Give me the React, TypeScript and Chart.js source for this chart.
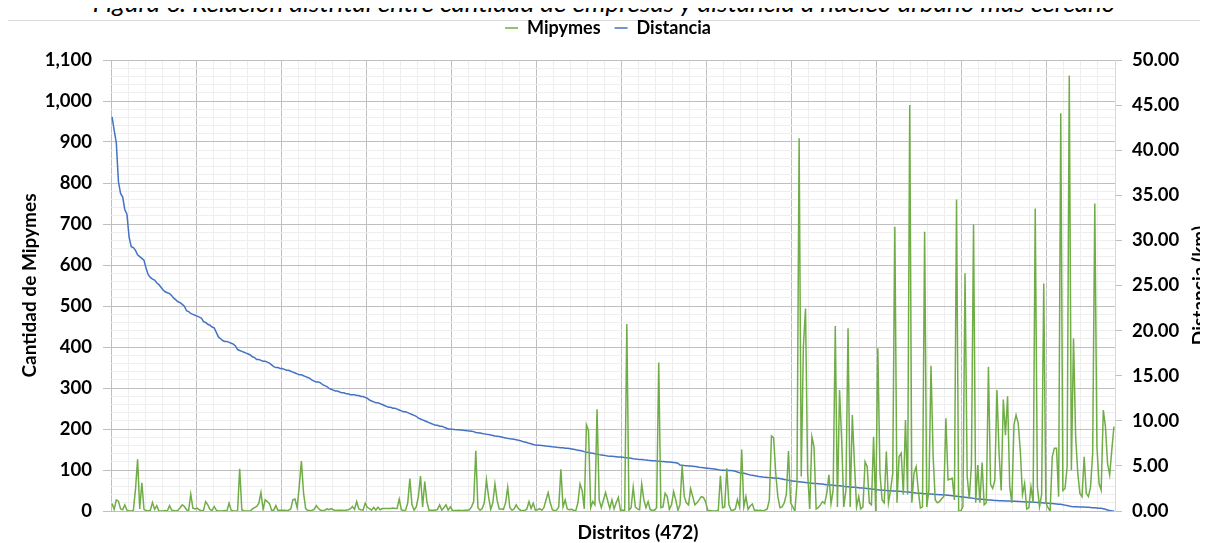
import React, { useEffect, useRef } from "react";
import { Chart, registerables } from "chart.js";

Chart.register(...registerables);

const titleText =
  "Figura 6. Relación distrital entre cantidad de empresas y distancia a núcleo urbano más cercano";

const seriesNames = ["Mipymes", "Distancia"];
const axisTitles = { left: "Cantidad de Mipymes", right: "Distancia (km)", bottom: "Distritos (472)" };

const leftMax = 1100;
const leftMajorStep = 100;
const leftMinorStep = 20;
const rightMax = 50;
const rightStep = 5;
const districtMajorEvery = 40;
const districtMinorEvery = 8;

// Cantidad de Mipymes por distrito (472 distritos, ordenados por distancia descendente)
const mipymes = [
  18, 4, 27, 24, 5, 3, 15, 2, 0, 0,
  1, 52, 126, 5, 69, 4, 1, 0, 2, 21,
  4, 13, 0, 0, 0, 1, 0, 13, 2, 1,
  0, 2, 8, 15, 11, 3, 1, 41, 7, 5,
  7, 3, 0, 2, 23, 15, 4, 1, 11, 2,
  0, 0, 0, 1, 0, 19, 2, 0, 0, 0,
  103, 3, 0, 0, 0, 0, 5, 8, 11, 19,
  45, 4, 27, 23, 18, 2, 2, 13, 1, 2,
  2, 2, 1, 2, 5, 27, 29, 8, 60, 122,
  45, 6, 1, 1, 2, 4, 13, 6, 2, 1,
  2, 5, 3, 6, 3, 1, 2, 2, 2, 1,
  2, 3, 5, 11, 4, 23, 5, 3, 2, 19,
  9, 6, 2, 9, 2, 9, 3, 6, 6, 6,
  6, 6, 7, 6, 6, 29, 3, 1, 2, 20,
  79, 15, 2, 10, 35, 85, 10, 72, 23, 2,
  2, 2, 2, 4, 15, 2, 8, 15, 2, 10,
  2, 1, 1, 2, 1, 1, 2, 2, 3, 10,
  23, 147, 8, 2, 6, 20, 76, 35, 4, 20,
  66, 27, 5, 5, 4, 20, 58, 8, 2, 5,
  15, 6, 2, 1, 1, 5, 23, 6, 19, 2,
  3, 6, 2, 8, 27, 45, 20, 3, 1, 2,
  10, 102, 10, 27, 5, 3, 4, 2, 1, 20,
  66, 50, 5, 210, 196, 8, 23, 15, 248, 27,
  8, 27, 45, 25, 6, 27, 5, 20, 33, 2,
  2, 2, 456, 2, 8, 58, 10, 5, 3, 66,
  27, 8, 23, 3, 2, 2, 8, 362, 8, 10,
  43, 35, 4, 15, 47, 27, 2, 15, 111, 35,
  20, 15, 54, 35, 15, 20, 27, 35, 33, 23,
  2, 1, 0, 0, 0, 2, 86, 8, 10, 104,
  15, 2, 2, 5, 28, 10, 150, 10, 35, 4,
  12, 17, 2, 2, 1, 2, 0, 2, 5, 27,
  183, 179, 92, 35, 8, 10, 20, 41, 146, 20,
  10, 0, 67, 909, 84, 401, 494, 92, 5, 181,
  157, 5, 8, 15, 23, 18, 43, 88, 18, 51,
  451, 10, 295, 173, 10, 51, 446, 10, 234, 116,
  10, 35, 5, 10, 120, 108, 20, 15, 181, 0,
  397, 92, 27, 20, 145, 20, 51, 92, 693, 20,
  133, 141, 40, 222, 40, 990, 20, 92, 108, 51,
  7, 10, 681, 10, 51, 354, 133, 27, 20, 23,
  30, 35, 226, 76, 78, 80, 27, 760, 0, 0,
  10, 580, 84, 30, 112, 699, 20, 112, 20, 118,
  15, 20, 352, 65, 55, 75, 295, 141, 50, 272,
  185, 280, 60, 20, 210, 234, 214, 145, 40, 67,
  5, 8, 59, 20, 738, 59, 10, 40, 555, 20,
  8, 0, 132, 153, 153, 35, 970, 50, 55, 108,
  1062, 100, 421, 181, 92, 43, 35, 132, 43, 35,
  59, 141, 750, 157, 67, 51, 246, 206, 116, 88,
  149, 206,
];

// Distancia al núcleo urbano más cercano (km)
const distancia = [
  43.7, 42.2, 40.8, 36.5, 35.2, 34.8, 33.4, 32.9, 30.4, 29.3,
  29.2, 28.9, 28.4, 28.2, 28.0, 27.8, 26.9, 26.2, 25.9, 25.7,
  25.6, 25.3, 25.1, 24.8, 24.5, 24.3, 24.2, 24.1, 23.9, 23.6,
  23.4, 23.2, 23.1, 22.9, 22.7, 22.2, 22.1, 21.9, 21.8, 21.7,
  21.6, 21.5, 21.4, 21.0, 20.9, 20.7, 20.6, 20.4, 20.3, 19.8,
  19.3, 19.1, 18.9, 18.8, 18.8, 18.7, 18.6, 18.5, 18.3, 17.9,
  17.8, 17.7, 17.6, 17.5, 17.4, 17.3, 17.1, 17.0, 16.8, 16.8,
  16.7, 16.6, 16.6, 16.5, 16.4, 16.2, 16.0, 15.9, 15.9, 15.8,
  15.8, 15.7, 15.6, 15.6, 15.5, 15.4, 15.3, 15.2, 15.1, 15.1,
  15.0, 14.9, 14.8, 14.7, 14.5, 14.4, 14.3, 14.3, 14.2, 14.0,
  13.9, 13.8, 13.6, 13.5, 13.4, 13.3, 13.3, 13.2, 13.1, 13.1,
  13.0, 13.0, 12.9, 12.9, 12.9, 12.8, 12.8, 12.7, 12.7, 12.6,
  12.5, 12.3, 12.2, 12.1, 12.0, 12.0, 11.9, 11.8, 11.7, 11.6,
  11.5, 11.5, 11.4, 11.4, 11.3, 11.2, 11.1, 11.0, 11.0, 10.9,
  10.8, 10.7, 10.6, 10.5, 10.3, 10.2, 10.1, 10.0, 9.9, 9.8,
  9.7, 9.6, 9.5, 9.5, 9.4, 9.4, 9.3, 9.2, 9.1, 9.1,
  9.05, 9.03, 9.02, 9.0, 8.98, 8.95, 8.93, 8.9, 8.88, 8.85,
  8.8, 8.7, 8.68, 8.65, 8.6, 8.55, 8.5, 8.47, 8.43, 8.38,
  8.32, 8.3, 8.25, 8.2, 8.15, 8.1, 8.05, 8.0, 7.98, 7.95,
  7.9, 7.85, 7.8, 7.7, 7.65, 7.6, 7.5, 7.45, 7.38, 7.32,
  7.3, 7.28, 7.26, 7.23, 7.2, 7.18, 7.15, 7.12, 7.1, 7.06,
  7.04, 7.02, 7.0, 6.97, 6.95, 6.92, 6.88, 6.84, 6.78, 6.74,
  6.7, 6.65, 6.58, 6.52, 6.48, 6.44, 6.4, 6.34, 6.3, 6.25,
  6.22, 6.18, 6.14, 6.1, 6.08, 6.06, 6.04, 6.02, 6.0, 5.98,
  5.95, 5.92, 5.9, 5.87, 5.84, 5.8, 5.77, 5.74, 5.72, 5.7,
  5.67, 5.65, 5.62, 5.6, 5.58, 5.56, 5.54, 5.52, 5.5, 5.48,
  5.46, 5.44, 5.42, 5.4, 5.37, 5.34, 5.3, 5.1, 5.08, 5.05,
  5.03, 5.0, 4.98, 4.96, 4.93, 4.9, 4.86, 4.83, 4.8, 4.77,
  4.74, 4.71, 4.68, 4.65, 4.62, 4.58, 4.55, 4.53, 4.52, 4.5,
  4.49, 4.48, 4.47, 4.4, 4.32, 4.25, 4.2, 4.18, 4.12, 4.06,
  4.0, 3.96, 3.92, 3.87, 3.82, 3.79, 3.76, 3.74, 3.72, 3.7,
  3.68, 3.66, 3.64, 3.62, 3.6, 3.55, 3.5, 3.45, 3.4, 3.36,
  3.33, 3.3, 3.27, 3.25, 3.22, 3.19, 3.16, 3.13, 3.1, 3.08,
  3.06, 3.04, 3.02, 3.0, 2.98, 2.95, 2.92, 2.89, 2.87, 2.85,
  2.83, 2.81, 2.79, 2.76, 2.73, 2.7, 2.68, 2.66, 2.64, 2.62,
  2.6, 2.58, 2.56, 2.54, 2.52, 2.5, 2.47, 2.44, 2.41, 2.38,
  2.35, 2.33, 2.31, 2.29, 2.27, 2.25, 2.24, 2.22, 2.21, 2.2,
  2.18, 2.16, 2.14, 2.12, 2.1, 2.08, 2.05, 2.03, 2.0, 1.98,
  1.96, 1.94, 1.92, 1.9, 1.89, 1.88, 1.86, 1.84, 1.82, 1.8,
  1.79, 1.78, 1.77, 1.75, 1.72, 1.69, 1.66, 1.63, 1.6, 1.58,
  1.55, 1.52, 1.49, 1.46, 1.43, 1.4, 1.37, 1.34, 1.31, 1.29,
  1.27, 1.25, 1.23, 1.21, 1.19, 1.17, 1.16, 1.15, 1.14, 1.13,
  1.12, 1.11, 1.1, 1.09, 1.08, 1.07, 1.05, 1.04, 1.03, 1.02,
  1.01, 1.0, 0.99, 0.98, 0.96, 0.95, 0.93, 0.92, 0.9, 0.88,
  0.86, 0.84, 0.82, 0.8, 0.78, 0.76, 0.74, 0.7, 0.65, 0.6,
  0.55, 0.51, 0.48, 0.47, 0.46, 0.45, 0.44, 0.43, 0.42, 0.41,
  0.39, 0.37, 0.35, 0.33, 0.31, 0.3, 0.26, 0.2, 0.12, 0.05,
  0.02, 0.0,
];

const districts = mipymes.map((_, i) => String(i + 1));

const GREEN = "#70ad47";
const BLUE = "#4472c4";
const MAJOR = "#bfbfbf";
const MINOR = "#eeeeee";
const FONT = "Lato, 'Open Sans', sans-serif";

const axisTitlePlugin = {
  id: "axisTitlesCustom",
  afterDraw(chart: any) {
    const { ctx, chartArea } = chart;
    ctx.save();
    ctx.fillStyle = "#000";
    ctx.font = `bold 19px ${FONT}`;
    ctx.textAlign = "center";
    ctx.textBaseline = "middle";
    ctx.fillText(
      axisTitles.bottom,
      (chartArea.left + chartArea.right) / 2 + 25,
      chart.height - 10
    );
    ctx.translate(chart.width - 8, (chartArea.top + chartArea.bottom) / 2);
    ctx.rotate(-Math.PI / 2);
    ctx.fillText(axisTitles.right, 0, 0);
    ctx.restore();
  },
};

export default function App() {
  const canvasRef = useRef<HTMLCanvasElement | null>(null);

  useEffect(() => {
    if (!canvasRef.current) return;
    const chart = new Chart(canvasRef.current, {
      type: "line",
      data: {
        labels: districts,
        datasets: [
          {
            label: seriesNames[0],
            data: mipymes,
            borderColor: GREEN,
            backgroundColor: GREEN,
            borderWidth: 1.5,
            pointRadius: 0,
            tension: 0,
            yAxisID: "y",
            xAxisID: "x",
          },
          {
            label: seriesNames[1],
            data: distancia,
            borderColor: BLUE,
            backgroundColor: BLUE,
            borderWidth: 1.5,
            pointRadius: 0,
            tension: 0,
            yAxisID: "y1",
            xAxisID: "x",
          },
        ],
      },
      options: {
        animation: false,
        responsive: false,
        maintainAspectRatio: false,
        layout: { padding: 0 },
        plugins: {
          tooltip: { enabled: false },
          legend: {
            display: true,
            position: "top",
            labels: {
              usePointStyle: true,
              pointStyle: "line",
              pointStyleWidth: 13,
              boxWidth: 13,
              boxHeight: 13,
              padding: 14,
              color: "#000",
              font: { family: FONT, size: 18, weight: "bold" },
            },
          },
        },
        scales: {
          x: {
            type: "category",
            offset: true,
            grid: {
              offset: true,
              drawTicks: false,
              color: (ctx: any) =>
                ctx.index % districtMajorEvery === 0
                  ? MAJOR
                  : ctx.index % districtMinorEvery === 0
                  ? MINOR
                  : "rgba(0,0,0,0)",
              lineWidth: 1,
            },
            border: { display: true, color: MAJOR },
            ticks: { display: false, autoSkip: false },
            title: { display: false },
            afterFit: (s: any) => {
              s.height = 32;
            },
          },
          xTop: {
            type: "category",
            position: "top",
            display: true,
            grid: { display: false, drawTicks: false },
            border: { display: false },
            ticks: { display: false },
            afterFit: (s: any) => {
              s.height = 13;
            },
          },
          y: {
            type: "linear",
            position: "left",
            min: 0,
            max: leftMax,
            grid: {
              color: (ctx: any) =>
                ctx.tick && ctx.tick.value % leftMajorStep === 0 ? MAJOR : MINOR,
              tickColor: (ctx: any) =>
                ctx.tick && ctx.tick.value % leftMajorStep === 0 ? MAJOR : "rgba(0,0,0,0)",
              tickLength: 8,
            },
            border: { display: false },
            ticks: {
              stepSize: leftMinorStep,
              autoSkip: false,
              padding: 11,
              color: "#000",
              font: { family: FONT, size: 18.5, weight: "bold" },
              callback: (v: any) =>
                Number(v) % leftMajorStep === 0 ? Number(v).toLocaleString("en-US") : "",
            },
            title: {
              display: true,
              text: axisTitles.left,
              color: "#000",
              font: { family: FONT, size: 19, weight: "bold" },
              padding: { top: 10, bottom: 0 },
            },
            afterFit: (s: any) => {
              s.width = 103;
            },
          },
          y1: {
            type: "linear",
            position: "right",
            min: 0,
            max: rightMax,
            grid: {
              drawOnChartArea: false,
              tickLength: 7,
              tickColor: MAJOR,
            },
            border: { display: true, color: "#d9d9d9" },
            ticks: {
              stepSize: rightStep,
              autoSkip: false,
              padding: 10,
              color: "#000",
              font: { family: FONT, size: 18.5, weight: "bold" },
              callback: (v: any) => Number(v).toFixed(2),
            },
            title: { display: false },
            afterFit: (s: any) => {
              s.width = 93;
            },
          },
        },
      } as any,
      plugins: [axisTitlePlugin],
    });
    return () => chart.destroy();
  }, []);

  return (
    <div style={{ position: "relative", width: 1200, height: 535 }}>
      <div
        style={{
          position: "absolute",
          top: -19,
          left: -8,
          width: 1208,
          textAlign: "center",
          fontFamily: FONT,
          fontStyle: "italic",
          fontSize: 26,
          lineHeight: "26px",
          color: "#000",
          whiteSpace: "nowrap",
        }}
      >
        {titleText}
      </div>
      <div
        style={{
          position: "absolute",
          left: -1,
          top: 12,
          width: 1198,
          height: 540,
          border: "1px solid #d9d9d9",
          boxSizing: "border-box",
        }}
      />
      <canvas
        ref={canvasRef}
        width={1200}
        height={538}
        style={{ position: "absolute", left: 0, top: -3, width: 1200, height: 538 }}
      />
    </div>
  );
}
